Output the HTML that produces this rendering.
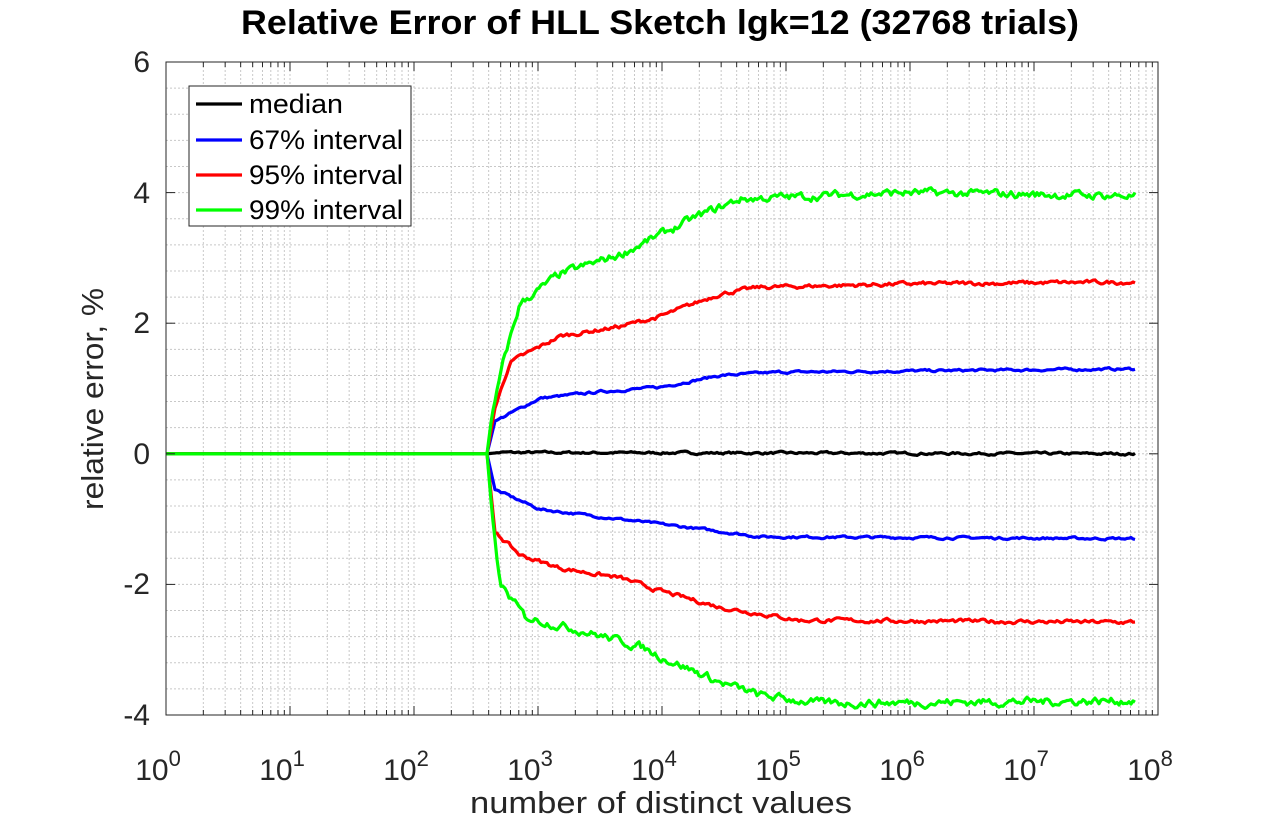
<!DOCTYPE html>
<html><head><meta charset="utf-8"><style>
html,body{margin:0;padding:0;background:#fff;width:1274px;height:818px;overflow:hidden}
svg{font-family:"Liberation Sans",Arial,sans-serif}
</style></head><body>
<svg id="s" width="1274" height="818" viewBox="0 0 1274 818" xmlns="http://www.w3.org/2000/svg">
<rect width="1274" height="818" fill="#fff"/>
<g id="grid"></g>
<g id="curves" fill="none" stroke-width="3.2" stroke-linejoin="round"></g>
<rect x="166" y="62" width="992" height="653" fill="none" stroke="#262626" stroke-width="1"/>
<g id="ticks" stroke="#262626" stroke-width="1"></g>
<text x="660" y="34" font-size="34" font-weight="bold" text-anchor="middle" fill="#000" textLength="838" lengthAdjust="spacingAndGlyphs">Relative Error of HLL Sketch lgk=12 (32768 trials)</text>
<g font-size="30" fill="#262626" text-anchor="end">
<text x="150" y="72">6</text><text x="150" y="203">4</text><text x="150" y="333">2</text>
<text x="150" y="464">0</text><text x="150" y="594">-2</text><text x="150" y="725">-4</text>
</g>
<g id="xl" font-size="30" fill="#262626" text-anchor="middle"></g>
<text x="661" y="813" font-size="31" text-anchor="middle" fill="#262626" textLength="382" lengthAdjust="spacingAndGlyphs">number of distinct values</text>
<text transform="translate(103,399) rotate(-90)" font-size="31" text-anchor="middle" fill="#262626" textLength="222" lengthAdjust="spacingAndGlyphs">relative error, %</text>
<rect x="189" y="86" width="222" height="140" fill="#fff" stroke="#262626" stroke-width="1"/>
<g stroke-width="3.2">
<line x1="196" y1="104" x2="242" y2="104" stroke="#000"/>
<line x1="196" y1="140" x2="242" y2="140" stroke="#00f"/>
<line x1="196" y1="175" x2="242" y2="175" stroke="#f00"/>
<line x1="196" y1="210" x2="242" y2="210" stroke="#0f0"/>
</g>
<g font-size="27" fill="#000">
<text x="249" y="113" textLength="94" lengthAdjust="spacingAndGlyphs">median</text><text x="249" y="149" textLength="154" lengthAdjust="spacingAndGlyphs">67% interval</text>
<text x="249" y="184" textLength="154" lengthAdjust="spacingAndGlyphs">95% interval</text><text x="249" y="219" textLength="154" lengthAdjust="spacingAndGlyphs">99% interval</text>
</g>
</svg>
<script>
const NS="http://www.w3.org/2000/svg";
const L=166,R=1158,T=62,B=715,D=124;
const X=t=>L+t*D, Y=v=>T+(6-v)*65.3;
function el(p,tag,a){const e=document.createElementNS(NS,tag);for(const k in a)e.setAttribute(k,a[k]);p.appendChild(e);return e;}
const g=document.getElementById('grid'),tk=document.getElementById('ticks'),xl=document.getElementById('xl');
for(let d=0;d<8;d++)for(let m=1;m<10;m++){const x=X(d+Math.log10(m));
 el(g,'line',{x1:x,x2:x,y1:T,y2:B,stroke:'#c8c8c8','stroke-width':1,'stroke-dasharray':'2,2'});
 const len=m==1?9:5;el(tk,'line',{x1:x,x2:x,y1:B,y2:B-len});el(tk,'line',{x1:x,x2:x,y1:T,y2:T+len});}
for(let i=0;i<=25;i++){const y=T+i*653/25;
 el(g,'line',{x1:L,x2:R,y1:y,y2:y,stroke:'#c8c8c8','stroke-width':1,'stroke-dasharray':'2,2'});
 if(i%5==0){el(tk,'line',{x1:L,x2:L+9,y1:y,y2:y});el(tk,'line',{x1:R,x2:R-9,y1:y,y2:y});}}
for(let d=0;d<=8;d++){const t=el(xl,'text',{x:X(d)-8,y:780});t.textContent='10';const s=el(t,'tspan',{dy:-14,'font-size':22});s.textContent=d;}
let seed=7;const rnd=()=>{seed=(seed*16807)%2147483647;return seed/2147483647-0.5;};
function interp(pts,x){if(x<=pts[0][0])return pts[0][1];for(let i=1;i<pts.length;i++)if(x<=pts[i][0]){const a=pts[i-1],b=pts[i];return a[1]+(b[1]-a[1])*(x-a[0])/(b[0]-a[0]);}return pts[pts.length-1][1];}
const c=document.getElementById('curves');
function curve(col,pts,amp){let d=`M${L},${Y(0)} L487,${Y(0)}`;let n=0;
 for(let x=487;x<=1135;x+=2){n=n*0.6+rnd()*amp;const v=interp(pts,x)+(x>495?n:0);d+=` L${x},${Y(v).toFixed(1)}`;}
 el(c,'path',{d,stroke:col});}
curve('#000',[[487,0],[500,0.02],[1135,0]],0.03);
curve('#00f',[[487,0],[495,0.5],[540,0.85],[600,0.95],[660,1.02],[720,1.2],[780,1.25],[1135,1.3]],0.03);
curve('#00f',[[487,0],[495,-0.55],[540,-0.85],[620,-1.0],[700,-1.15],[760,-1.27],[1135,-1.3]],0.03);
curve('#f00',[[487,0],[495,0.7],[510,1.4],[560,1.8],[620,1.95],[660,2.1],[720,2.45],[760,2.55],[900,2.6],[1135,2.63]],0.05);
curve('#f00',[[487,0],[495,-1.2],[520,-1.55],[560,-1.75],[620,-1.9],[660,-2.1],[720,-2.35],[800,-2.55],[1135,-2.58]],0.05);
curve('#0f0',[[487,0],[492,0.6],[505,1.5],[520,2.3],[560,2.75],[620,3.05],[700,3.65],[740,3.9],[900,4.0],[1135,3.95]],0.1);
curve('#0f0',[[487,0],[492,-0.9],[500,-2.0],[525,-2.5],[580,-2.7],[640,-2.95],[660,-3.1],[720,-3.5],[760,-3.7],[820,-3.82],[1135,-3.78]],0.1);
</script>
</body></html>
